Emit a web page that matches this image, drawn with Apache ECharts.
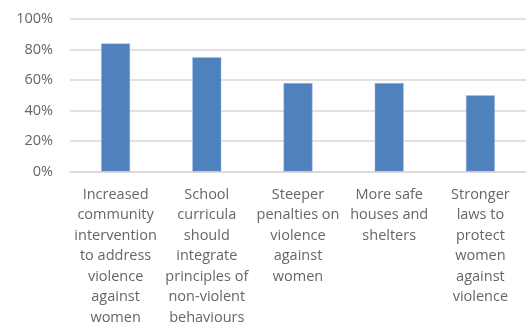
<!DOCTYPE html>
<html><head><meta charset="utf-8">
<script src="https://cdn.jsdelivr.net/npm/echarts@6/dist/echarts.min.js"></script>
<style>html,body{margin:0;padding:0;background:#fff}#c{width:526px;height:328px}</style>
</head><body><div id="c"></div>
<script>
const categories = [
  "Increased\ncommunity\nintervention\nto address\nviolence\nagainst\nwomen",
  "School\ncurricula\nshould\nintegrate\nprinciples of\nnon-violent\nbehaviours",
  "Steeper\npenalties on\nviolence\nagainst\nwomen",
  "More safe\nhouses and\nshelters",
  "Stronger\nlaws to\nprotect\nwomen\nagainst\nviolence"
];
const values = [84, 75, 58, 58, 50];
const yTicks = [0, 20, 40, 60, 80, 100];

const chart = echarts.init(document.getElementById('c'), null, {renderer: 'canvas'});
chart.setOption({
  animation: false,
  grid: {left: 70, right: -7, top: 19, bottom: 153, containLabel: false},
  xAxis: {
    type: 'category', data: categories,
    axisLine: {lineStyle: {color: '#d9d9d9', width: 1.5}},
    axisTick: {show: false},
    axisLabel: {interval: 0, color: '#666666', fontFamily: 'Open Sans, sans-serif', fontSize: 14.5, lineHeight: 20.5, margin: 13}
  },
  yAxis: {
    type: 'value', min: yTicks[0], max: yTicks[yTicks.length-1], interval: 20,
    axisLine: {show: false}, axisTick: {show: false},
    splitLine: {lineStyle: {color: '#d9d9d9', width: 1.5}},
    axisLabel: {formatter: v => v + '%', color: '#666666', fontFamily: 'Open Sans, sans-serif', fontSize: 14.5, margin: 17}
  },
  series: [{
    type: 'bar', data: values, barWidth: 29,
    itemStyle: {color: '#4F81BD', borderColor: '#a9c4e6', borderWidth: 0.5}
  }]
});
</script></body></html>
